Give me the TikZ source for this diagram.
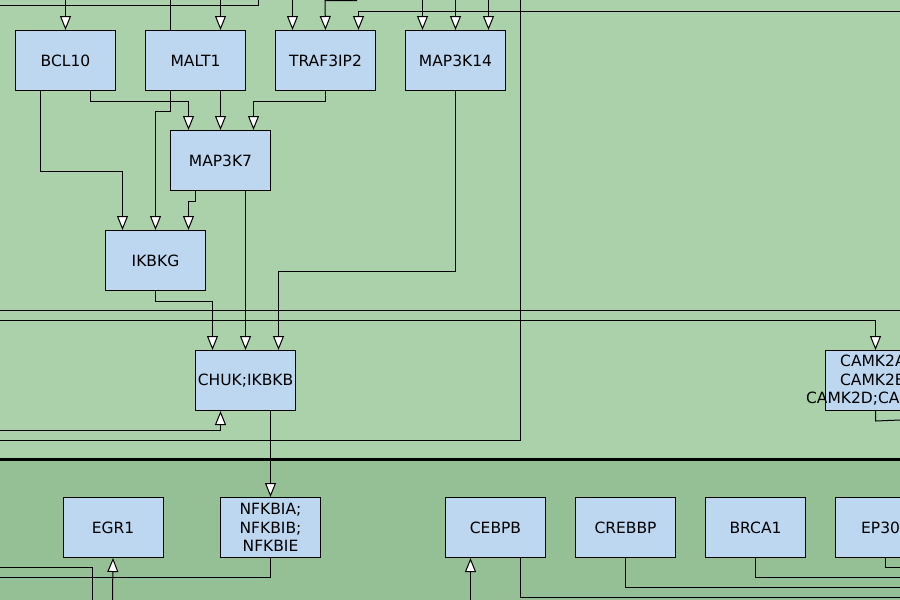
\documentclass[tikz,border=0pt]{standalone}
\usepackage{fontspec}
\setmainfont{DejaVu Sans}
\usetikzlibrary{arrows.meta,calc}
\definecolor{bgup}{HTML}{ABD1AB}
\definecolor{bglow}{HTML}{95BF95}
\definecolor{genefill}{HTML}{BDD7F0}
\tikzset{
  gene/.style={draw=black, fill=genefill, line width=1pt, minimum width=100pt, minimum height=60pt,
    inner sep=0pt, anchor=north west, align=center, font=\fontsize{15.5}{18.5}\selectfont, text=black},
  link/.style={draw=black, line width=1pt},
  arr/.style={link, -{Triangle[length=14pt,width=11pt,fill=white]}},
}
\begin{document}
\begin{tikzpicture}[x=1pt,y=-1pt]
\useasboundingbox (0,0) rectangle (900,600);
\clip (0,0) rectangle (900,600);
% backgrounds
\fill[bgup] (0,0) rectangle (900,460);
\fill[bglow] (0,460) rectangle (900,600);
\draw[line width=2.5pt] (0,459.5) -- (900,459.5);

% nodes
\node[gene] (bcl10) at (15,30) {BCL10};
\node[gene] (malt1) at (145,30) {MALT1};
\node[gene] (traf) at (275,30) {TRAF3IP2};
\node[gene] (map3k14) at (405,30) {MAP3K14};
\node[gene] (map3k7) at (170,130) {MAP3K7};
\node[gene] (ikbkg) at (105,230) {IKBKG};
\node[gene] (chuk) at (195,350) {CHUK;IKBKB};
\node[gene] (camk2) at (825,350) {\makebox[0pt][c]{CAMK2A;}\\\makebox[0pt][c]{CAMK2B;}\\\makebox[0pt][c]{CAMK2D;CAMK2G}};
\node[gene] (egr1) at (62.5,497) {EGR1};
\node[gene] (nfkbia) at (220,497) {NFKBIA;\\NFKBIB;\\NFKBIE};
\node[gene] (cebpb) at (445,497) {CEBPB};
\node[gene] (crebbp) at (575,497) {CREBBP};
\node[gene] (brca1) at (705,497) {BRCA1};
\node[gene] (ep300) at (835,497) {EP300};

% free coordinates
\coordinate (topA) at (0,5);
\coordinate (topB) at (258,5);
\coordinate (topC) at (258,0);

% top region connectors
\draw[link] (topA) -- (topB) -- (topC);
\draw[arr] (bcl10.north) ++(0,-30) -- (bcl10.north);
\draw[link] ([xshift=-25pt]malt1.north) -- ++(0,-30);
\draw[arr] ([xshift=25pt]malt1.north) ++(0,-30) -- ([xshift=25pt]malt1.north);
\draw[arr] ([xshift=-33pt]traf.north) ++(0,-30) -- ([xshift=-33pt]traf.north);
\draw[arr] (357,0.5) -- (325,0.5) -- (traf.north);
\draw[arr] (900,11) -| ([xshift=33pt]traf.north);
\foreach \dx in {-33,0,33}
  \draw[arr] ([xshift=\dx pt]map3k14.north) ++(0,-30) -- ([xshift=\dx pt]map3k14.north);
\draw[link] (520,0) -- (520,440) -- (0,440);

% inner connectors
\draw[arr] ([xshift=25pt]bcl10.south) -- ++(0,10) -| ([xshift=-32pt]map3k7.north);
\draw[arr] ([xshift=-25pt]bcl10.south) -- ++(0,80) -| ([xshift=-33pt]ikbkg.north);
\draw[arr] ([xshift=25pt]malt1.south) -- (map3k7.north);
\draw[arr] ([xshift=-25pt]malt1.south) -- ++(0,20) -| (ikbkg.north);
\draw[arr] (traf.south) -- ++(0,10) -| ([xshift=33pt]map3k7.north);
\draw[arr] ([xshift=-25pt]map3k7.south) -- ++(0,10) -| ([xshift=33pt]ikbkg.north);
\draw[arr] ([xshift=25pt]map3k7.south) -- (chuk.north);
\draw[arr] (ikbkg.south) -- ++(0,10) -| ([xshift=-33pt]chuk.north);
\draw[arr] (map3k14.south) -- ++(0,180) -| ([xshift=33pt]chuk.north);
\draw[link] (0,310) -- (900,310);
\draw[arr] (0,320) -| (camk2.north);
\draw[link] (camk2.south) -- ++(0,10) -- (900,420);
\draw[arr] (0,430) -| ([xshift=-25pt]chuk.south);
\draw[arr] ([xshift=25pt]chuk.south) -- (nfkbia.north);

% bottom connectors
\draw[link] (nfkbia.south) |- (0,577);
\draw[link] (0,567) -| (92,600);
\draw[arr] (112.5,600) -- (egr1.south);
\draw[arr] ([xshift=-25pt]cebpb.south) ++(0,43) -- ([xshift=-25pt]cebpb.south);
\draw[link] ([xshift=25pt]cebpb.south) |- (900,597);
\draw[link] (crebbp.south) |- (900,587);
\draw[link] (brca1.south) |- (900,577);
\draw[link] (ep300.south) |- (900,567);
\end{tikzpicture}
\end{document}
